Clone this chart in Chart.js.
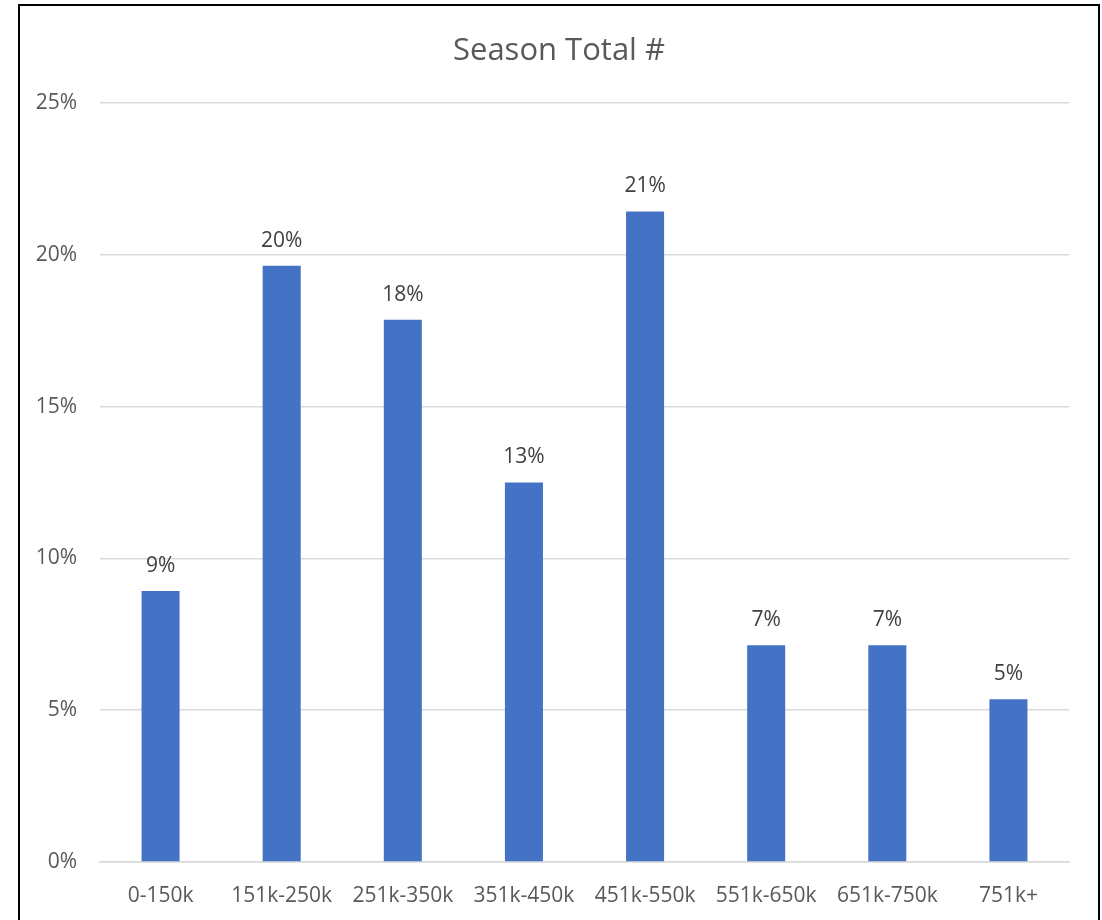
<!DOCTYPE html>
<html>
<head>
<meta charset="utf-8">
<title>Season Total #</title>
<script src="https://cdn.jsdelivr.net/npm/chart.js@4/dist/chart.umd.min.js"></script>
<style>
  html, body { margin: 0; padding: 0; background: #fff; overflow: hidden; }
  #wrap { position: relative; width: 1102px; height: 920px; }
  #frame {
    position: absolute; left: 18px; top: 4px; width: 1078px; height: 940px;
    border: 2px solid #000; pointer-events: none;
  }
  canvas { position: absolute; left: 0; top: 0; }
</style>
</head>
<body>
<div id="wrap">
  <canvas id="chart" width="1102" height="920"></canvas>
  <div id="frame"></div>
</div>
<script>
// Share of season totals per bracket (percent)
const categories = ['0-150k', '151k-250k', '251k-350k', '351k-450k', '451k-550k', '551k-650k', '651k-750k', '751k+'];
const shares = [8.93, 19.64, 17.86, 12.5, 21.43, 7.14, 7.14, 5.36];
const yTicks = [0, 5, 10, 15, 20, 25];
const chartTitle = 'Season Total #';

const FONT = "'Open Sans', 'Noto Sans', sans-serif";

// Title centred on the framed box rather than the plot area
const boxTitle = {
    id: 'boxTitle',
    afterDraw(chart) {
        const ctx = chart.ctx;
        ctx.save();
        ctx.font = '31px ' + FONT;
        ctx.fillStyle = '#595959';
        ctx.textAlign = 'center';
        ctx.textBaseline = 'middle';
        ctx.fillText(chartTitle, 559, 51);
        ctx.restore();
    }
};

// Percent labels above each bar
const valueLabels = {
    id: 'valueLabels',
    afterDatasetsDraw(chart) {
        const ctx = chart.ctx;
        const meta = chart.getDatasetMeta(0);
        ctx.save();
        ctx.font = '21px ' + FONT;
        ctx.fillStyle = '#404040';
        ctx.textAlign = 'center';
        ctx.textBaseline = 'middle';
        meta.data.forEach((bar, i) => {
            const v = chart.data.datasets[0].data[i];
            ctx.fillText(Math.round(v) + '%', bar.x, bar.y - 25);
        });
        ctx.restore();
    }
};

const ctx = document.getElementById('chart').getContext('2d');
new Chart(ctx, {
    type: 'bar',
    data: {
        labels: categories,
        datasets: [{
            data: shares,
            backgroundColor: '#4472C4',
            borderWidth: 0,
            categoryPercentage: 1,
            barPercentage: 0.314
        }]
    },
    options: {
        responsive: false,
        animation: false,
        layout: { padding: { left: 0, right: 33, top: 103, bottom: 0 } },
        plugins: {
            legend: { display: false },
            tooltip: { enabled: false },
            title: { display: false }
        },
        scales: {
            x: {
                grid: { display: false },
                border: { display: true, color: '#d9d9d9', width: 1.5 },
                ticks: {
                    color: '#595959',
                    font: { family: FONT, size: 21 },
                    padding: 13,
                    maxRotation: 0,
                    autoSkip: false
                },
                afterFit(scale) { scale.height = 58; }
            },
            y: {
                min: 0,
                max: 25,
                afterBuildTicks(scale) { scale.ticks = yTicks.map(v => ({ value: v })); },
                grid: { color: '#d9d9d9', lineWidth: 1.5, drawTicks: false },
                border: { display: false },
                ticks: {
                    color: '#595959',
                    font: { family: FONT, size: 21 },
                    padding: 23,
                    callback: v => v + '%'
                },
                afterFit(scale) { scale.width = 100; }
            }
        }
    },
    plugins: [valueLabels, boxTitle]
});
</script>
</body>
</html>
